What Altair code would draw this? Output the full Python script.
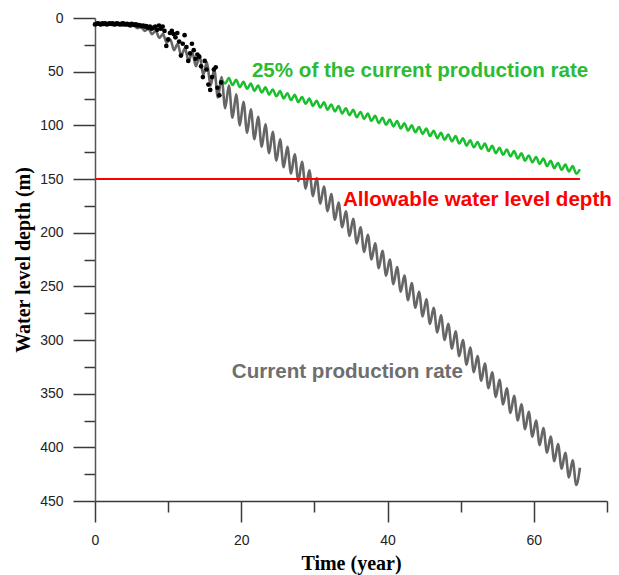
import altair as alt
import pandas as pd

# Simulated water level depth (m) under the current production rate:
# seasonal shallow peaks (year k + 0.3) and deep troughs (year k + 0.8)
grey_peak = [5.5, 5.5, 5.8, 6, 6.5, 7, 8.5, 10, 12, 15,
             20, 24, 28, 32, 35, 41, 48, 55, 63, 71,
             78, 85, 92, 99, 106, 113, 120, 127, 134, 142,
             149, 157, 164, 172, 180, 187, 195, 202, 210, 217,
             225, 232, 240, 247, 255, 262, 270, 277, 285, 292,
             300, 307, 315, 322, 330, 337, 345, 352, 360, 367,
             375, 382, 390, 397, 405, 412, 419]
grey_trough = [6.5, 6.5, 6.8, 7.2, 8, 9.5, 12, 15, 18.5, 23,
               30, 35, 40, 45, 53, 63, 74, 84, 93, 100,
               107, 113, 120, 126, 133, 139, 145, 152, 159, 166,
               173, 180, 188, 195, 203, 210, 218, 225, 233, 240,
               248, 255, 263, 270, 278, 285, 293, 300, 308, 315,
               323, 330, 338, 345, 353, 360, 368, 375, 383, 390,
               398, 405, 413, 420, 428, 435]

# Scenario with 25% of the current production rate (from year 17.3 on)
green_trough = [61, 62.5, 64.5, 66, 68, 69.5, 71.5, 73, 75, 76.5,
                78.5, 80, 82, 83.5, 85.5, 87, 89, 90.5, 92.5, 94,
                96, 98, 99.5, 101, 103, 105, 106.5, 108, 110, 112,
                113.5, 115, 117, 119, 120.5, 122, 124, 126, 127.5, 129,
                131, 133, 134.5, 136, 138, 140, 141.5, 143, 145]
green_peak = [56, 57.5, 59.5, 61, 63, 64.5, 66.5, 68, 70, 71.5,
              73.5, 75, 77, 78.5, 80.5, 82, 84, 85.5, 87.5, 89,
              91, 93, 94.5, 96, 98, 100, 101.5, 103, 105, 107,
              108.5, 110, 112, 114, 115.5, 117, 119, 121, 122.5, 124,
              126, 128, 129.5, 131, 133, 135, 136.5, 138, 141]

# Observed water levels: dense record (every 0.2 yr) up to year 7,
# then quarterly readings up to year 17.25
obs_early_d = [6, 5.5, 5, 5.5, 6, 5, 5.5, 5, 6, 5.5,
               5, 5.5, 5, 6, 5.5, 5, 5.5, 6, 5.5, 5,
               5.5, 6, 5.5, 6, 6.5, 5.5, 6, 6.5, 6, 7,
               6.5, 7, 7.5, 7, 8, 7.5]
obs_late_d = [9, 8, 10, 9, 8, 11, 7, 10, 8, 12,
              26, 20, 14, 12, 15, 18, 14, 22, 35, 24,
              16, 27, 40, 33, 24, 30, 38, 34, 36, 45,
              55, 40, 48, 62, 67, 55, 48, 46, 65, 72,
              60]
obs_t = [round(0.2 * i, 2) for i in range(len(obs_early_d))] + \
        [round(7.25 + 0.25 * i, 2) for i in range(len(obs_late_d))]
obs_d = obs_early_d + obs_late_d

allowable_depth = 150
end_year = 66.3

grey_t, grey_d = [0.0], [6.0]
for k in range(len(grey_trough)):
    grey_t += [k + 0.3, k + 0.8]
    grey_d += [grey_peak[k], grey_trough[k]]
grey_t.append(end_year)
grey_d.append(grey_peak[-1])

green_t, green_d = [17.3], [57.0]
for i, k in enumerate(range(17, 17 + len(green_trough))):
    green_t += [k + 0.8, k + 1.3]
    green_d += [green_trough[i], green_peak[i]]

grey_df = pd.DataFrame({"t": grey_t, "d": grey_d})
green_df = pd.DataFrame({"t": green_t, "d": green_d})
obs_df = pd.DataFrame({"t": obs_t, "d": obs_d})
limit_df = pd.DataFrame({"t": [0, end_year], "d": [allowable_depth] * 2})

AXIS_COLOR = "#3a3a3a"

x_axis = alt.Axis(
    values=list(range(0, 71, 10)),
    tickSize={"condition": {"test": "datum.value % 20 === 0", "value": 21}, "value": 11},
    labelExpr="datum.value % 20 === 0 ? datum.label : ''",
    grid=False, domainColor=AXIS_COLOR, domainWidth=1.5,
    tickColor=AXIS_COLOR, tickWidth=1.5,
    labelFont="Liberation Sans", labelFontSize=14, labelColor="#222222",
    labelPadding=11, labelFlush=False, labelOverlap=False,
    titleFont="Liberation Serif", titleFontWeight="bold", titleFontSize=20,
    titleColor="black", titlePadding=6,
)
y_axis = alt.Axis(
    values=list(range(0, 451, 25)),
    tickSize={"condition": {"test": "datum.value % 50 === 0", "value": 22}, "value": 11},
    labelExpr="datum.value % 50 === 0 ? datum.label : ''",
    grid=False, domainColor="#555555", domainWidth=1.5,
    tickColor=AXIS_COLOR, tickWidth=1.5,
    labelFont="Liberation Sans", labelFontSize=14, labelColor="#222222",
    labelPadding=10, labelOverlap=False,
    titleFont="Liberation Serif", titleFontWeight="bold", titleFontSize=20,
    titleColor="black", titlePadding=6,
)

x_scale = alt.Scale(domain=[0, 70], nice=False)
y_scale = alt.Scale(domain=[0, 450], reverse=True, nice=False)

X = alt.X("t:Q", scale=x_scale, axis=x_axis, title="Time (year)")
Y = alt.Y("d:Q", scale=y_scale, axis=y_axis, title="Water level depth (m)")

grey_line = alt.Chart(grey_df).mark_line(
    color="#666666", strokeWidth=2.6, interpolate="monotone"
).encode(x=X, y=Y)

green_line = alt.Chart(green_df).mark_line(
    color="#19bf2c", strokeWidth=2.5, interpolate="monotone"
).encode(x=X, y=Y)

limit_line = alt.Chart(limit_df).mark_line(
    color="#ff0000", strokeWidth=2
).encode(x=X, y=Y)

obs_points = alt.Chart(obs_df).mark_circle(
    color="black", size=22, opacity=1
).encode(x=X, y=Y)

labels_df = pd.DataFrame({
    "t": [21.45, 33.9, 18.7],
    "d": [49.7, 170, 330],
    "label": ["25% of the current production rate",
              "Allowable water level depth",
              "Current production rate"],
    "color": ["#2bbb35", "#ff0000", "#6e6e6e"],
})
labels = alt.Chart(labels_df).mark_text(
    align="left", baseline="middle", font="Liberation Sans",
    fontWeight="bold", fontSize=20.6
).encode(
    x=X, y=Y,
    text="label:N",
    color=alt.Color("color:N", scale=None),
)

chart = alt.layer(grey_line, green_line, limit_line, obs_points, labels).properties(
    width=512,
    height=483,
    autosize=alt.AutoSizeParams(type="none"),
    padding={"left": 95, "top": 18, "right": 12, "bottom": 74},
    background="white",
).configure_view(stroke=None)

chart.save("out.html", embed_options={"renderer": "svg", "actions": False})
